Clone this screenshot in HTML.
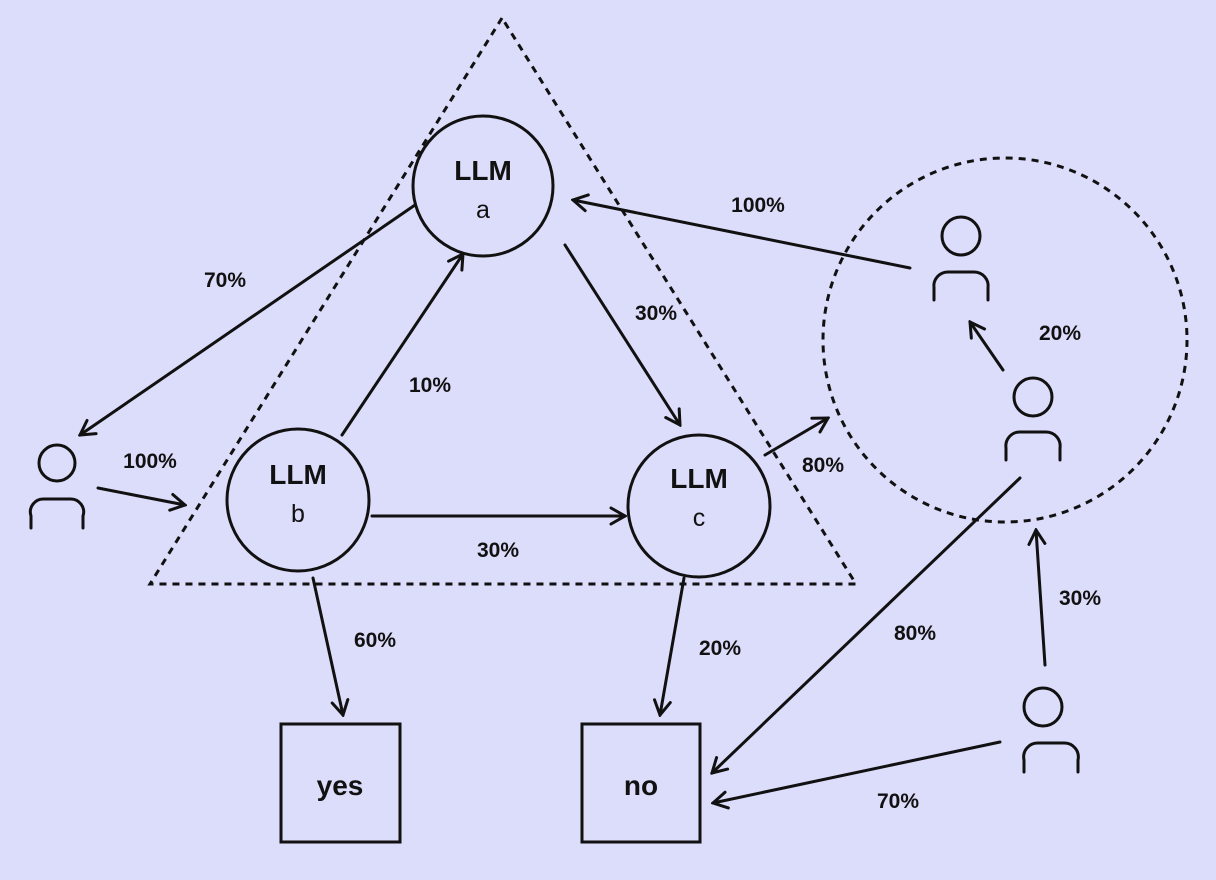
<!DOCTYPE html>
<html><head><style>
html,body{margin:0;padding:0;background:#dcdcfb;}
svg{display:block}
text{font-family:"Liberation Sans",sans-serif;fill:#111;}
.p{font-size:21px;font-weight:bold;text-anchor:middle;}
.l{font-size:28px;font-weight:bold;text-anchor:middle;}
.s{font-size:25px;text-anchor:middle;}
</style></head><body>
<svg width="1216" height="880" viewBox="0 0 1216 880" xmlns="http://www.w3.org/2000/svg">
<defs><marker id="a" viewBox="0 0 20 20" refX="18" refY="10" markerWidth="20" markerHeight="20" markerUnits="userSpaceOnUse" orient="auto"><path d="M4 2 L18 10 L4 18" fill="none" stroke="#111" stroke-width="3" stroke-linecap="round"/></marker></defs>
<rect width="1216" height="880" fill="#dcdcfb"/>
<g fill="none" stroke="#111" stroke-width="3">
<polygon points="502,18 150,584 856,584" stroke-dasharray="7,6"/>
<circle cx="1005" cy="340" r="182" stroke-dasharray="7,6"/>
<circle cx="483" cy="186" r="70" fill="#dcdcfb"/>
<circle cx="298" cy="500" r="71" fill="#dcdcfb"/>
<circle cx="699" cy="506" r="71" fill="#dcdcfb"/>
<rect x="281" y="724" width="119" height="118"/>
<rect x="582" y="724" width="118" height="118"/>
<!-- persons -->
<circle cx="57" cy="463" r="18"/><path d="M31 528 V516 A13 13 0 0 1 44 499 H70 A13 13 0 0 1 83 516 V528" stroke-linecap="round"/>
<circle cx="961" cy="236" r="19"/><path d="M934 300 V288 A14 14 0 0 1 948 272 H974 A14 14 0 0 1 988 288 V300" stroke-linecap="round"/>
<circle cx="1033" cy="397" r="19"/><path d="M1006 460 V448 A14 14 0 0 1 1020 432 H1046 A14 14 0 0 1 1060 448 V460" stroke-linecap="round"/>
<circle cx="1043" cy="707" r="19"/><path d="M1024 772 V760 A14 14 0 0 1 1038 743 H1064 A14 14 0 0 1 1078 760 V772" stroke-linecap="round"/>
<g marker-end="url(#a)" stroke-linecap="round">
<line x1="415" y1="205" x2="80" y2="435"/>
<line x1="98" y1="488" x2="185" y2="505"/>
<line x1="342" y1="435" x2="463" y2="254"/>
<line x1="565" y1="245" x2="680" y2="425"/>
<line x1="372" y1="516" x2="625" y2="516"/>
<line x1="765" y1="455" x2="828" y2="418"/>
<line x1="910" y1="268" x2="573" y2="200"/>
<line x1="1003" y1="370" x2="970" y2="322"/>
<line x1="313" y1="578" x2="343" y2="715"/>
<line x1="684" y1="578" x2="660" y2="715"/>
<line x1="1020" y1="478" x2="712" y2="773"/>
<line x1="1045" y1="665" x2="1036" y2="530"/>
<line x1="1000" y1="742" x2="713" y2="803"/>
</g>
</g>
<text class="l" x="483" y="180">LLM</text><text class="s" x="483" y="218">a</text>
<text class="l" x="298" y="484">LLM</text><text class="s" x="298" y="522">b</text>
<text class="l" x="699" y="488">LLM</text><text class="s" x="699" y="526">c</text>
<text class="l" x="340" y="795">yes</text>
<text class="l" x="641" y="795">no</text>
<text class="p" x="225" y="287">70%</text>
<text class="p" x="150" y="468">100%</text>
<text class="p" x="430" y="392">10%</text>
<text class="p" x="656" y="320">30%</text>
<text class="p" x="498" y="557">30%</text>
<text class="p" x="823" y="472">80%</text>
<text class="p" x="758" y="212">100%</text>
<text class="p" x="1060" y="340">20%</text>
<text class="p" x="375" y="647">60%</text>
<text class="p" x="720" y="655">20%</text>
<text class="p" x="915" y="640">80%</text>
<text class="p" x="1080" y="605">30%</text>
<text class="p" x="898" y="808">70%</text>
</svg>
</body></html>
